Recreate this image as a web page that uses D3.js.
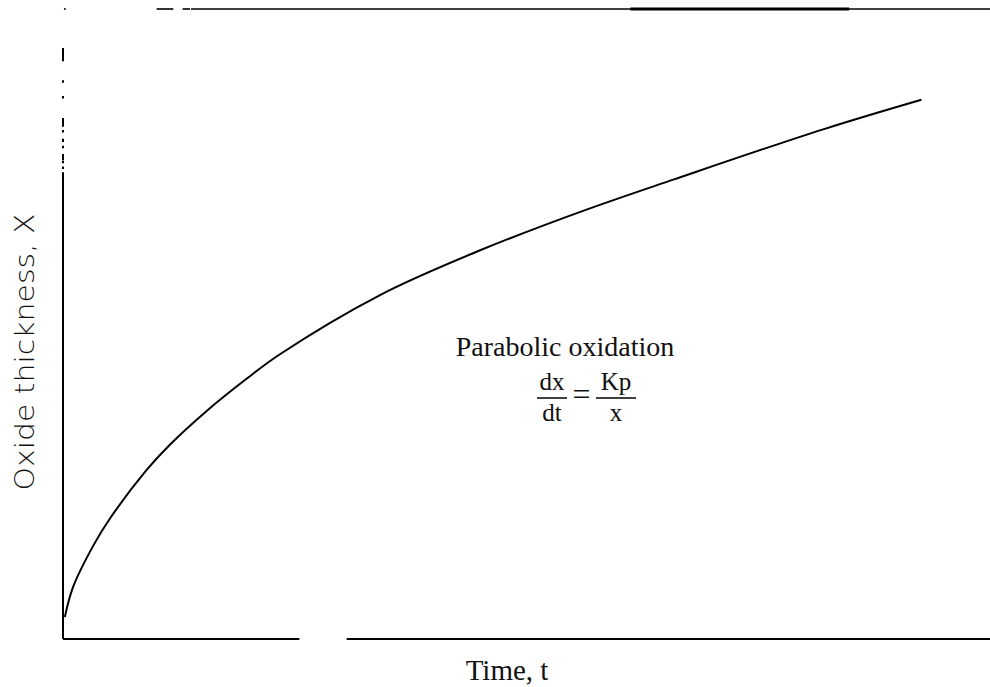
<!DOCTYPE html>
<html>
<head>
<meta charset="utf-8">
<script src="https://cdn.jsdelivr.net/npm/d3@7"></script>
<style>
  html, body { margin: 0; padding: 0; background: #fff; }
  svg { display: block; }
</style>
</head>
<body>
<svg id="chart" width="990" height="687"></svg>
<script>
// Oxide growth over time (arbitrary units, 0–100 on both axes)
const time      = [0.2, 1.1, 3.3, 5.1, 9.0, 11.5, 15.5, 19.8, 23.4, 34.2, 45.0, 55.8, 66.0, 82.0, 92.6];
const thickness = [3.5, 8.3, 14.9, 19.2, 26.8, 30.8, 36.2, 41.3, 45.2, 54.6, 61.7, 67.8, 73.0, 80.9, 85.6];

const xTitle = "Time, t";
const yTitle = "Oxide thickness, X";
const noteTitle = "Parabolic oxidation";
const formula = { lhsNum: "dx", lhsDen: "dt", rhsNum: "Kp", rhsDen: "x" };

const svg = d3.select("#chart");

const x = d3.scaleLinear().domain([0, 100]).range([63, 990]);
const y = d3.scaleLinear().domain([0, 100]).range([639, 9]);

// Frame pieces of the printed figure (in data units), broken where the print faded
const frameBottom = [[0, 25.5], [30.6, 100]];
const frameTop = [[0.1, 0.3], [10.1, 11.9], [12.9, 13.7], [13.8, 100]];
const frameTopHeavy = [[61.2, 84.8]];
const frameLeft = [[91.7, 93.8], [88.3, 88.7], [85.8, 86.2], [81.3, 82.7], [80.4, 80.8],
                   [78.9, 79.4], [77.9, 78.3], [76.0, 77.0], [75.5, 75.9], [74.6, 75.0], [0, 74.1]];

const frame = svg.append("g").attr("stroke", "#000").attr("fill", "none");

frame.selectAll("line.bottom").data(frameBottom).join("line")
  .attr("class", "bottom")
  .attr("x1", d => x(d[0])).attr("x2", d => x(d[1]))
  .attr("y1", y(0)).attr("y2", y(0))
  .attr("stroke-width", 2);

frame.selectAll("line.top").data(frameTop).join("line")
  .attr("class", "top")
  .attr("x1", d => x(d[0])).attr("x2", d => x(d[1]))
  .attr("y1", y(100)).attr("y2", y(100))
  .attr("stroke-width", 1.6);

frame.selectAll("line.topheavy").data(frameTopHeavy).join("line")
  .attr("class", "topheavy")
  .attr("x1", d => x(d[0])).attr("x2", d => x(d[1]))
  .attr("y1", y(100)).attr("y2", y(100))
  .attr("stroke-width", 3);

frame.selectAll("line.left").data(frameLeft).join("line")
  .attr("class", "left")
  .attr("x1", x(0)).attr("x2", x(0))
  .attr("y1", d => y(d[0])).attr("y2", d => y(d[1]))
  .attr("stroke-width", 2);

// Growth curve
const pts = time.map((t, i) => [t, thickness[i]]);
svg.append("path")
  .datum(pts)
  .attr("fill", "none")
  .attr("stroke", "#000")
  .attr("stroke-width", 2)
  .attr("d", d3.line().x(d => x(d[0])).y(d => y(d[1])).curve(d3.curveCatmullRom.alpha(0.5)));

// Axis titles
const serif = "'Liberation Serif', 'Times New Roman', serif";
svg.append("text")
  .attr("x", 507).attr("y", 680)
  .attr("text-anchor", "middle")
  .attr("font-family", serif)
  .attr("font-size", 29)
  .attr("fill", "#111")
  .text(xTitle);

svg.append("text")
  .attr("transform", "translate(34,352) rotate(-90)")
  .attr("text-anchor", "middle")
  .attr("font-family", "'DejaVu Sans', sans-serif")
  .attr("font-weight", 300)
  .attr("font-size", 27)
  .attr("fill", "#111")
  .attr("textLength", 277)
  .attr("lengthAdjust", "spacingAndGlyphs")
  .text(yTitle);

// Annotation: parabolic rate law
svg.append("text")
  .attr("x", 565).attr("y", 356)
  .attr("text-anchor", "middle")
  .attr("font-family", serif)
  .attr("font-size", 28)
  .attr("fill", "#111")
  .text(noteTitle);

const eq = svg.append("g").attr("font-family", serif).attr("font-size", 25).attr("fill", "#111");
const barY = 398;
function fraction(cx, halfW, num, den) {
  eq.append("text").attr("x", cx).attr("y", barY - 8).attr("text-anchor", "middle").text(num);
  eq.append("line").attr("x1", cx - halfW).attr("x2", cx + halfW)
    .attr("y1", barY).attr("y2", barY).attr("stroke", "#000").attr("stroke-width", 1.5);
  eq.append("text").attr("x", cx).attr("y", barY + 23).attr("text-anchor", "middle").text(den);
}
fraction(552, 15, formula.lhsNum, formula.lhsDen);
eq.append("text").attr("x", 581.5).attr("y", barY + 7).attr("text-anchor", "middle")
  .attr("font-size", 32).text("=");
fraction(616, 20, formula.rhsNum, formula.rhsDen);
</script>
</body>
</html>
